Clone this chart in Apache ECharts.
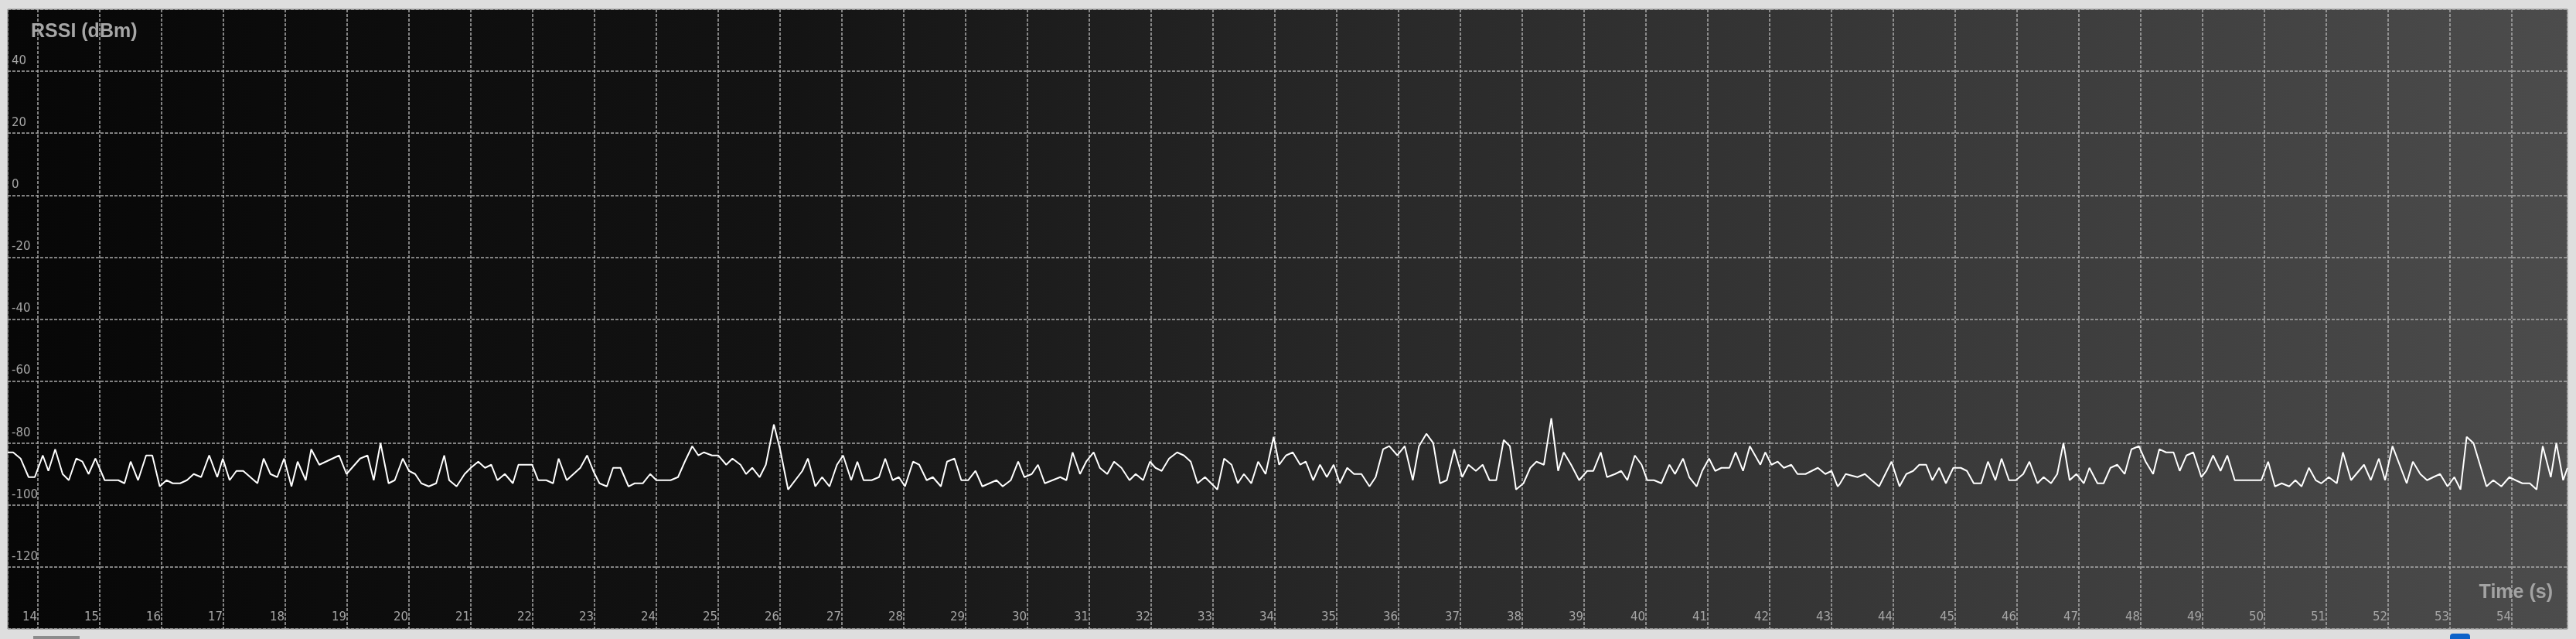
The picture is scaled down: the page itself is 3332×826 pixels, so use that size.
<!DOCTYPE html>
<html>
<head>
<meta charset="utf-8">
<script src="https://cdn.jsdelivr.net/npm/echarts@6/dist/echarts.min.js"></script>
<style>
  html, body { margin: 0; padding: 0; background: #dedede; }
  #chart { width: 3332px; height: 826px; }
</style>
</head>
<body>
<div id="chart"></div>
<script>
// ---- data ----
const yTitle = 'RSSI (dBm)';
const xTitle = 'Time (s)';

const timeS = [
  13.51,13.60,13.72,13.85,13.95,14.08,14.17,14.28,14.40,14.50,14.62,14.72,14.82,14.93,15.08,15.30,15.40,15.50,15.62,15.75,15.85,15.97,16.08,16.18,16.30,16.41,16.52,16.64,16.77,16.90,16.99,17.10,17.21,17.32,17.55,17.65,17.76,17.87,17.98,18.10,18.20,18.33,18.42,18.55,18.87,18.99,19.21,19.33,19.43,
  19.54,19.67,19.77,19.90,20.00,20.10,20.20,20.32,20.44,20.57,20.65,20.77,20.90,21.00,21.12,21.23,21.33,21.43,21.55,21.68,21.77,21.99,22.09,22.22,22.33,22.42,22.55,22.77,22.88,22.98,23.08,23.20,23.30,23.42,23.55,23.65,23.78,23.90,24.00,24.23,24.35,24.46,24.58,24.68,24.77,24.90,25.00,25.13,25.23,
  25.36,25.45,25.55,25.67,25.77,25.90,26.00,26.13,26.36,26.45,26.57,26.68,26.80,26.92,27.02,27.15,27.25,27.35,27.48,27.60,27.70,27.82,27.92,28.02,28.15,28.25,28.37,28.47,28.60,28.70,28.82,28.93,29.04,29.16,29.27,29.50,29.60,29.73,29.85,29.95,30.07,30.17,30.28,30.53,30.63,30.73,30.85,30.95,31.07,31.17,
  31.29,31.40,31.52,31.65,31.75,31.87,31.98,32.07,32.17,32.29,32.42,32.53,32.64,32.75,32.87,32.97,33.07,33.18,33.30,33.40,33.50,33.62,33.73,33.85,33.98,34.07,34.18,34.29,34.41,34.50,34.62,34.73,34.84,34.95,35.05,35.17,35.28,35.40,35.53,35.63,35.75,35.85,35.98,36.10,36.23,36.33,36.45,36.56,36.67,36.78,36.90,37.03,37.13,
  37.25,37.36,37.47,37.58,37.70,37.80,37.90,38.02,38.13,38.23,38.35,38.47,38.58,38.67,38.79,38.92,39.05,39.15,39.27,39.37,39.50,39.60,39.70,39.82,39.93,40.02,40.13,40.25,40.38,40.47,40.60,40.70,40.82,40.91,41.02,41.12,41.22,41.35,41.45,41.57,41.68,41.85,41.93,42.03,42.13,42.23,42.35,42.45,42.58,42.78,42.90,43.00,43.10,
  43.14,43.23,43.42,43.54,43.65,43.77,43.97,44.10,44.21,44.32,44.42,44.53,44.63,44.74,44.85,44.97,45.09,45.19,45.30,45.42,45.53,45.65,45.75,45.87,45.98,46.10,46.20,46.33,46.43,46.55,46.65,46.75,46.85,46.96,47.08,47.17,47.30,47.40,47.51,47.62,47.74,47.85,47.97,48.08,48.20,48.30,48.41,48.53,48.63,48.74,48.85,48.98,
  49.06,49.17,49.29,49.40,49.52,49.95,50.06,50.17,50.28,50.40,50.50,50.60,50.72,50.83,50.92,51.04,51.17,51.27,51.40,51.61,51.72,51.85,51.95,52.07,52.30,52.40,52.52,52.63,52.73,52.84,52.96,53.07,53.17,53.27,53.38,53.59,53.70,53.83,53.96,54.06,54.17,54.29,54.40,54.50,54.63,54.72,54.83,54.90
];

const rssiDbm = [
  -83,-83,-85,-91,-91,-84,-89,-82,-90,-92,-85,-86,-90,-85,-92,-92,-93,-86,-92,-84,-84,-94,-92,-93,-93,-92,-90,-91,-84,-91,-85,-92,-89,-89,-93,-85,-90,-91,-85,-94,-86,-92,-82,-87,-84,-90,-85,-84,-92,
  -80,-93,-92,-85,-89,-90,-93,-94,-93,-84,-92,-94,-90,-88,-86,-88,-87,-92,-90,-93,-87,-87,-92,-92,-93,-85,-92,-88,-84,-89,-93,-94,-88,-88,-94,-93,-93,-90,-92,-92,-91,-86,-81,-84,-83,-84,-84,-87,-85,
  -87,-90,-88,-91,-87,-74,-82,-95,-89,-85,-94,-91,-94,-87,-84,-92,-86,-92,-92,-91,-85,-92,-91,-94,-86,-87,-92,-91,-94,-86,-85,-92,-92,-89,-94,-92,-94,-92,-86,-91,-90,-87,-93,-91,-92,-83,-90,-86,-83,-88,
  -90,-86,-88,-92,-90,-92,-86,-88,-89,-85,-83,-84,-86,-93,-91,-93,-95,-85,-87,-93,-90,-93,-86,-90,-78,-87,-84,-83,-87,-86,-92,-87,-91,-87,-93,-88,-90,-90,-94,-91,-82,-81,-84,-81,-92,-81,-77,-80,-93,-92,-82,-91,-87,
  -89,-87,-92,-92,-79,-81,-95,-93,-88,-86,-87,-72,-89,-83,-87,-92,-89,-89,-83,-91,-90,-89,-92,-84,-87,-92,-92,-93,-87,-90,-85,-91,-94,-89,-85,-89,-88,-88,-83,-89,-81,-87,-83,-87,-86,-88,-87,-90,-90,-88,-90,-89,-94,
  -93,-90,-91,-90,-92,-94,-86,-94,-90,-89,-87,-87,-92,-88,-93,-88,-88,-89,-93,-93,-86,-92,-85,-92,-92,-90,-86,-93,-91,-93,-90,-80,-92,-90,-93,-88,-93,-93,-88,-87,-90,-82,-81,-86,-90,-82,-83,-83,-89,-84,-83,-91,
  -89,-84,-89,-84,-92,-92,-86,-94,-93,-94,-92,-94,-88,-92,-93,-91,-93,-83,-92,-87,-92,-85,-92,-81,-93,-86,-90,-92,-91,-90,-94,-91,-95,-78,-80,-94,-92,-94,-91,-92,-93,-93,-95,-81,-91,-80,-92,-88
];

const xRange = [13.5125, 54.9];
const yRange = [-140, 60];
const yStep = 20;

// ---- chart ----
const chart = echarts.init(document.getElementById('chart'), null, { renderer: 'canvas' });
const titleFont = '"Liberation Sans", Arial, sans-serif';
const tickFont = '"DejaVu Sans", Verdana, sans-serif';
const points = timeS.map((t, i) => [t, rssiDbm[i]]);
const gridStyle = { color: '#a9a9a9', width: 1.5, type: [4, 2] };

chart.setOption({
  animation: false,
  backgroundColor: 'transparent',
  grid: {
    left: 10, right: 11, top: 12, bottom: 13,
    show: true,
    borderColor: '#8f8f8f',
    borderWidth: 1,
    backgroundColor: {
      type: 'linear', x: 0, y: 0, x2: 1, y2: 0,
      colorStops: [
        { offset: 0, color: '#070707' },
        { offset: 0.3, color: '#131313' },
        { offset: 0.55, color: '#2a2a2a' },
        { offset: 1, color: '#4c4c4c' }
      ]
    }
  },
  xAxis: {
    type: 'value',
    min: xRange[0], max: xRange[1],
    splitNumber: 41,
    axisLine: { show: false },
    axisTick: { show: false },
    splitLine: { show: true, lineStyle: gridStyle },
    axisLabel: {
      inside: true,
      showMinLabel: false, showMaxLabel: false,
      margin: 15,
      align: 'right',
      verticalAlign: 'middle',
      padding: [0, 1, 0, 0],
      color: '#a6a6a6',
      fontSize: 15,
      fontFamily: tickFont,
      formatter: v => (Math.abs(v - Math.round(v)) < 1e-6 ? String(Math.round(v)) : '')
    }
  },
  yAxis: {
    type: 'value',
    min: yRange[0], max: yRange[1], interval: yStep,
    axisLine: { show: false },
    axisTick: { show: false },
    splitLine: { show: true, lineStyle: gridStyle },
    axisLabel: {
      inside: true,
      showMinLabel: false, showMaxLabel: false,
      margin: 5,
      align: 'left',
      verticalAlign: 'bottom',
      lineHeight: 16,
      padding: [0, 0, 5, 0],
      color: '#a6a6a6',
      fontSize: 15,
      fontFamily: tickFont
    }
  },
  series: [{
    type: 'line',
    data: points,
    showSymbol: false,
    symbol: 'none',
    smooth: false,
    lineStyle: { color: '#ffffff', width: 2 },
    clip: true
  }],
  graphic: [
    { type: 'text', left: 40, top: 29, style: { text: yTitle, fill: '#a6a6a6', font: 'bold 25px ' + titleFont } },
    { type: 'text', right: 30, top: 754, style: { text: xTitle, fill: '#a3a3a3', font: 'bold 25px ' + titleFont } },
    { type: 'rect', shape: { x: 43, y: 822, width: 60, height: 6 }, style: { fill: '#8c8c8c' } },
    { type: 'rect', shape: { x: 3169, y: 819, width: 26, height: 12, r: 4 }, style: { fill: '#0d62c9' } }
  ]
});
</script>
</body>
</html>
